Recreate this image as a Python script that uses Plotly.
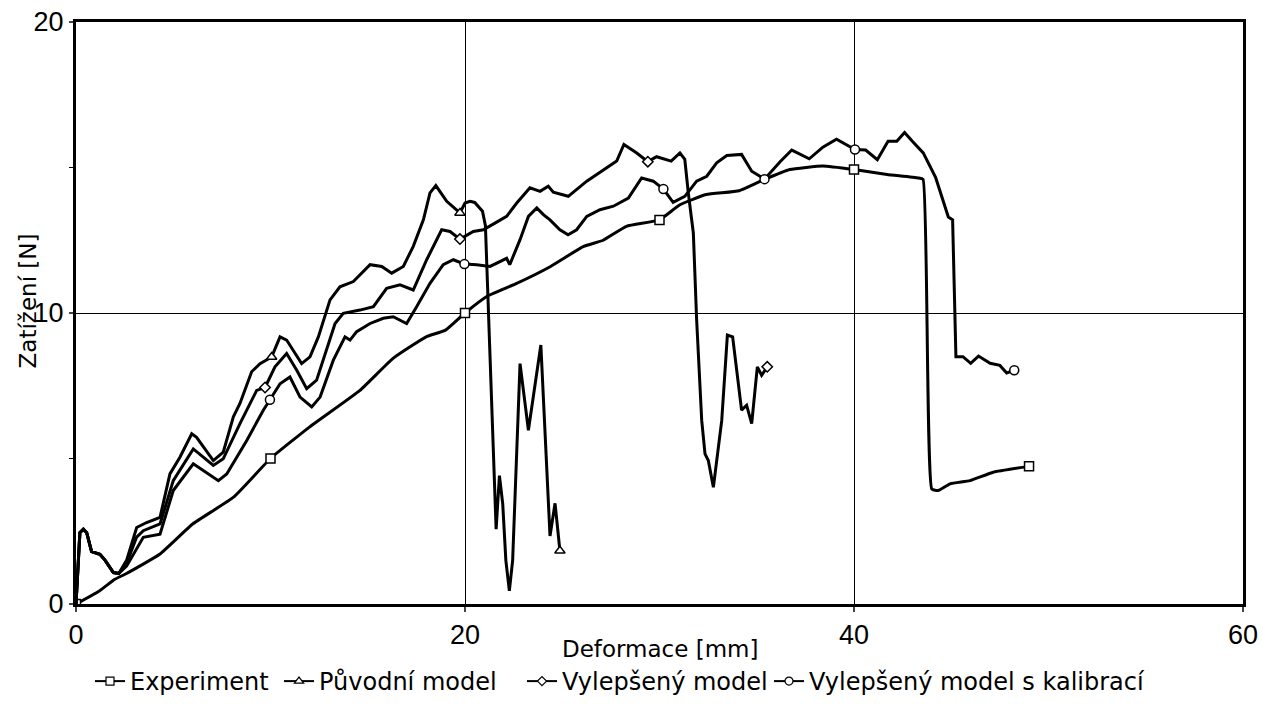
import plotly.graph_objects as go

# ---------------- data ----------------
exp_x = [0, 1.2, 2.0, 2.6, 4.3, 6.0, 8.1, 10, 12, 14.6, 16.3, 18.0, 19.0, 20, 21.2, 22.6,
         24.4, 26.1, 27.1, 28.3, 30, 31.05, 32.4, 34.1, 35.4, 36.7, 38.4, 40, 41.7, 43.3,
         43.55, 44.0, 44.33, 44.94, 45.96, 47.16, 49.0]
exp_y = [0, 0.45, 0.85, 1.05, 1.71, 2.75, 3.67, 5.0, 6.08, 7.34, 8.44, 9.18, 9.41, 10.0, 10.6, 11.0,
         11.6, 12.29, 12.5, 12.98, 13.2, 13.72, 14.07, 14.2, 14.59, 14.93, 15.05, 14.93, 14.76, 14.64,
         14.59, 3.95, 3.9, 4.13, 4.24, 4.53, 4.73]
exp_mx = [0, 10, 20, 30, 40, 49.0]
exp_my = [0, 5.0, 10.0, 13.2, 14.93, 4.73]

orig_x = [0, 0.2, 0.38, 0.55, 0.8, 1.23, 1.5, 1.92, 2.2, 2.6, 3.12, 3.63, 4.32, 4.83, 5.35,
          5.95, 6.2, 7.06, 7.57, 8.09, 8.43, 9.03, 9.46, 10.06, 10.49, 10.83, 11.6, 12.03,
          12.46, 13.06, 13.57, 14.26, 15.12, 15.72, 16.23, 16.83, 17.34, 17.86, 18.2, 18.5,
          19.06, 19.74, 20.0, 20.26, 20.5, 20.9, 21.05, 21.2, 21.46, 21.6, 21.77, 21.94,
          22.1, 22.28, 22.45, 22.83, 23.26, 23.9, 24.37, 24.63, 24.88]
orig_y = [0, 2.45, 2.57, 2.45, 1.8, 1.71, 1.5, 1.08, 1.05, 1.5, 2.63, 2.8, 2.98, 4.47, 5.05,
          5.85, 5.73, 4.93, 5.22, 6.43, 6.89, 7.98, 8.26, 8.49, 9.18, 9.07, 8.26, 8.49,
          9.18, 10.45, 10.9, 11.08, 11.66, 11.6, 11.37, 11.6, 12.29, 13.2, 14.13, 14.38,
          13.84, 13.44, 13.78, 13.84, 13.8, 13.5, 13.0, 10.2, 4.9, 2.57, 4.41, 3.44,
          1.5, 0.45, 1.5, 8.26, 5.97, 8.9, 2.34, 3.46, 1.83]
orig_mx = [10.06, 19.74, 24.88]
orig_my = [8.49, 13.44, 1.83]

impr_x = [0, 0.2, 0.38, 0.55, 0.8, 1.23, 1.5, 1.92, 2.2, 2.6, 3.12, 3.46, 4.32, 5.0, 6.03,
          7.06, 7.57, 8.43, 9.29, 9.72, 10.23, 10.83, 11.35, 11.86, 12.37, 12.89, 13.32,
          13.74, 14.6, 15.29, 15.97, 16.66, 17.34, 18.03, 18.8, 19.23, 19.74, 20.43, 20.94,
          21.54, 22.14, 22.66, 23.34, 23.86, 24.28, 24.54, 25.31, 26.26, 27.28, 27.8, 28.17,
          28.83, 29.4, 29.85, 30.6, 31.05, 31.3, 31.48, 31.74, 31.91, 32.17, 32.34, 32.51,
          32.77, 33.2, 33.49, 33.76, 34.22, 34.48, 34.74, 35.03, 35.25, 35.54]
impr_y = [0, 2.45, 2.57, 2.45, 1.8, 1.71, 1.5, 1.08, 1.05, 1.4, 2.3, 2.52, 2.75, 4.24, 5.33,
          4.76, 4.99, 6.2, 7.34, 7.44, 8.15, 8.61, 8.03, 7.4, 7.69, 8.72, 9.64,
          9.99, 10.1, 10.22, 10.85, 10.97, 10.79, 11.83, 12.86, 12.8, 12.54, 12.8, 12.86,
          13.09, 13.32, 13.78, 14.3, 14.18, 14.36, 14.15, 14.01, 14.53, 14.99, 15.22, 15.79,
          15.5, 15.2, 15.37, 15.22, 15.5, 15.28, 14.13, 12.75, 9.76, 6.31, 5.16, 4.93,
          4.01, 6.31, 9.24, 9.18, 6.66, 6.83, 6.2, 8.15, 7.86, 8.15]
impr_mx = [9.72, 19.74, 29.4, 35.54]
impr_my = [7.44, 12.54, 15.2, 8.15]

cal_x = [0, 0.2, 0.38, 0.55, 0.8, 1.23, 1.5, 1.92, 2.2, 2.6, 3.46, 4.32, 5.0, 6.03, 7.32,
         7.75, 8.78, 9.63, 9.97, 10.49, 11.0, 11.52, 12.12, 12.55, 13.23, 13.83, 14.09,
         14.43, 15.12, 15.8, 16.31, 17.0, 17.52, 18.2, 18.88, 19.4, 19.97, 20.6, 21.29,
         21.8, 22.14, 22.3, 22.83, 23.26, 23.69, 24.03, 24.37, 24.88, 25.3, 25.74, 26.26,
         26.94, 27.63, 28.4, 29.08, 29.68, 30.2, 30.7, 31.3, 31.91, 32.43, 32.94, 33.46,
         34.22, 34.74, 35.4, 36.2, 36.8, 37.7, 38.4, 39.1, 40.05, 40.6, 41.2, 41.75, 42.2,
         42.6, 43.0, 43.56, 44.2, 44.7, 44.85, 45.07, 45.24, 45.6, 46.0, 46.4, 47.0, 47.5,
         47.85, 48.24]
cal_y = [0, 2.45, 2.57, 2.45, 1.8, 1.71, 1.5, 1.08, 1.05, 1.3, 2.29, 2.4, 3.9, 4.82, 4.24,
         4.47, 5.62, 6.66, 7.02, 7.57, 7.8, 7.11, 6.77, 7.11, 8.38, 9.18, 9.07,
         9.36, 9.64, 9.82, 9.87, 9.64, 10.22, 11.02, 11.66, 11.83, 11.68, 11.66, 11.6,
         11.77, 11.88, 11.66, 12.52, 13.32, 13.61, 13.38, 13.2, 12.86, 12.69, 12.86, 13.32,
         13.55, 13.67, 13.95, 14.64, 14.53, 14.26, 13.8, 14.01, 14.53, 14.7, 15.16, 15.41,
         15.45, 14.87, 14.6, 15.2, 15.6, 15.3, 15.7, 15.97, 15.62, 15.6, 15.27, 15.9, 15.9,
         16.2, 15.9, 15.5, 14.65, 13.67, 13.3, 13.2, 8.5, 8.5, 8.27, 8.52, 8.27, 8.2,
         7.94, 8.03]
cal_mx = [9.97, 19.97, 30.2, 35.4, 40.05, 48.24]
cal_my = [7.02, 11.68, 14.26, 14.6, 15.62, 8.03]

names = ["Experiment", "Původní model", "Vylepšený model", "Vylepšený model s kalibrací"]
x_ticks = [0, 20, 40, 60]
y_ticks = [0, 10, 20]

# ---------------- figure ----------------
FONT = "DejaVu Sans, Liberation Sans, Arial, sans-serif"
TICKFONT = "Liberation Sans, Arial, sans-serif"
W, H = 1263, 704
series = [
    (exp_x, exp_y, exp_mx, exp_my, "square", 9, "spline"),
    (orig_x, orig_y, orig_mx, orig_my, "triangle-up", 9, "linear"),
    (impr_x, impr_y, impr_mx, impr_my, "diamond", 8, "linear"),
    (cal_x, cal_y, cal_mx, cal_my, "circle", 9, "linear"),
]
legend_ids = ["legend", "legend2", "legend3", "legend4"]
legend_left = [100, 289, 532, 779]   # legend box start in px

fig = go.Figure()
for (sx, sy, mx, my, sym, ms, shp), name, lid in zip(series, names, legend_ids):
    line = dict(color="black", width=3, shape=shp)
    if shp == "spline":
        line["smoothing"] = 0.4
    fig.add_trace(go.Scatter(x=sx, y=sy, mode="lines", showlegend=False,
                             line=line, hoverinfo="skip"))
    fig.add_trace(go.Scatter(x=mx, y=my, mode="markers", showlegend=False,
                             marker=dict(symbol=sym, size=ms, color="white",
                                         line=dict(color="black", width=1.5))))
    fig.add_trace(go.Scatter(x=[None], y=[None], mode="lines+markers", name=name,
                             legend=lid,
                             line=dict(color="black", width=2),
                             marker=dict(symbol=sym, size=ms - 1, color="white",
                                         line=dict(color="black", width=1.2))))

legend_common = dict(orientation="h", xref="container", yref="container",
                     xanchor="left", y=0.0, yanchor="bottom",
                     font=dict(size=24, family=FONT), itemwidth=30,
                     bgcolor="rgba(0,0,0,0)", borderwidth=0)
layout_legends = {}
for lid, lx in zip(legend_ids, legend_left):
    layout_legends[lid] = dict(legend_common, x=(lx - 10) / W)

fig.update_layout(
    width=W, height=H,
    margin=dict(l=76, r=20, t=22, b=100, autoexpand=False),
    paper_bgcolor="white", plot_bgcolor="white",
    font=dict(family=FONT, color="black", size=23),
    annotations=[
        dict(text="Deformace [mm]", xref="paper", yref="paper", x=0.5, y=-0.077,
             xanchor="center", yanchor="middle", showarrow=False,
             font=dict(size=23, family=FONT)),
        dict(text="Zatížení [N]", xref="paper", yref="paper", x=-0.0411, y=0.52,
             xanchor="center", yanchor="middle", showarrow=False, textangle=-90,
             font=dict(size=23, family=FONT)),
    ],
    **layout_legends,
)
fig.update_xaxes(range=[0, 60], tickvals=x_ticks, ticks="outside", ticklen=5, tickwidth=1.5,
                 showline=True, linewidth=3, linecolor="black", mirror=True,
                 showgrid=True, gridcolor="black", gridwidth=1.2, zeroline=False,
                 automargin=False, ticklabeloverflow="allow",
                 tickfont=dict(size=27, family=TICKFONT))
fig.update_yaxes(range=[0, 20], tickvals=y_ticks, ticks="outside", ticklen=4, tickwidth=1.5,
                 showline=True, linewidth=3, linecolor="black", mirror=True,
                 showgrid=True, gridcolor="black", gridwidth=1.2, zeroline=False,
                 automargin=False, ticklabeloverflow="allow",
                 tickfont=dict(size=27, family=TICKFONT),
                 minor=dict(tickvals=[5, 15], ticks="outside", ticklen=4, tickwidth=1.2,
                            tickcolor="black", showgrid=False))

fig.write_html("out.html",
               config={"displayModeBar": False},
               post_script="document.body.style.margin='0px';"
                           "document.body.style.overflow='hidden';")
